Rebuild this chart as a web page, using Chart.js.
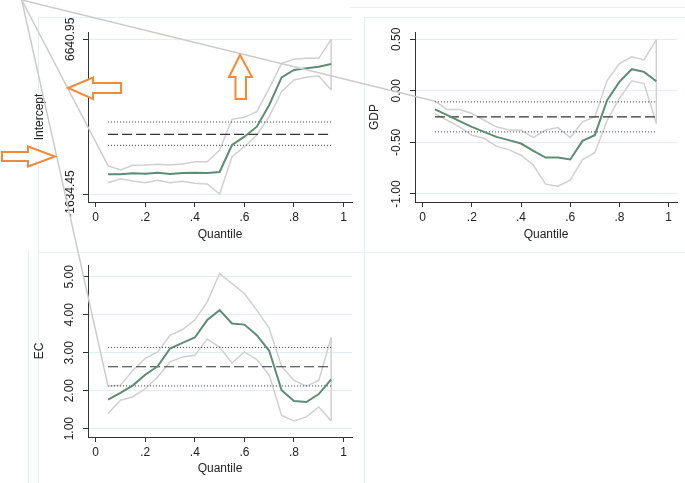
<!DOCTYPE html>
<html><head><meta charset="utf-8">
<script src="https://cdn.jsdelivr.net/npm/chart.js@4.4.1/dist/chart.umd.min.js"></script>
<style>
html,body{margin:0;padding:0;background:#fff;}
#wrap{position:relative;width:685px;height:483px;overflow:hidden;background:#fff;}
canvas{position:absolute;}
</style></head><body>
<div id="wrap">
<canvas id="bg" width="685" height="483" style="left:0;top:0"></canvas>
<canvas id="c1" width="360" height="252" style="left:0;top:0"></canvas>
<canvas id="c2" width="355" height="252" style="left:330px;top:0"></canvas>
<canvas id="c3" width="360" height="231" style="left:0;top:252px"></canvas>
<canvas id="ov" width="685" height="483" style="left:0;top:0"></canvas>
</div>
<script>
// ---------- data ----------
const quantiles = [0.05,0.10,0.15,0.20,0.25,0.30,0.35,0.40,0.45,0.50,0.55,0.60,0.65,0.70,0.75,0.80,0.85,0.90,0.95];
const xTickVals = [0,0.2,0.4,0.6,0.8,1];
const xTickLabels = ['0','.2','.4','.6','.8','1'];

const interceptCoef  = [-582,-582,-529,-547,-493,-564,-511,-493,-511,-457,987,1432,1967,3126,4606,4998,5088,5177,5319];
const interceptUpper = [-119,-351,-101,-83,-47,-83,-30,95,95,719,2359,2467,2770,4018,5355,5569,5622,5622,6640.95];
const interceptLower = [-1028,-814,-939,-1028,-903,-1028,-957,-1064,-1099,-1634.45,362,897,1521,2502,3839,4463,4606,4677,3929];
const interceptOLS = [1557, 969, 2217]; // estimate, lower, upper
const interceptTicks = [-1634.45, 6640.95];
const interceptTickLabels = ['-1634.45','6640.95'];

const gdpCoef  = [-0.18,-0.236,-0.294,-0.349,-0.398,-0.446,-0.478,-0.511,-0.582,-0.647,-0.647,-0.666,-0.485,-0.43,-0.09,0.087,0.21,0.184,0.094];
const gdpUpper = [-0.10,-0.18,-0.18,-0.22,-0.285,-0.349,-0.38,-0.38,-0.453,-0.38,-0.356,-0.453,-0.30,-0.252,0.103,0.265,0.33,0.30,0.498];
const gdpLower = [-0.22,-0.285,-0.349,-0.43,-0.46,-0.537,-0.57,-0.624,-0.72,-0.905,-0.925,-0.866,-0.666,-0.60,-0.285,-0.074,0.097,0.071,-0.317];
const gdpOLS = [-0.252, -0.398, -0.107];
const gdpTicks = [-1, -0.5, 0, 0.5];
const gdpTickLabels = ['-1.00','-0.50','0.00','0.50'];

const ecCoef  = [1.765,1.94,2.14,2.42,2.64,3.11,3.26,3.40,3.86,4.12,3.77,3.74,3.46,3.05,2.01,1.73,1.70,1.91,2.30];
const ecUpper = [2.12,2.14,2.54,2.85,3.02,3.46,3.61,3.86,4.34,5.09,4.82,4.56,4.12,3.64,2.64,2.27,2.12,2.27,3.40];
const ecLower = [1.40,1.75,1.84,2.05,2.36,2.76,2.89,2.93,3.36,3.14,2.73,3.02,2.82,2.41,1.35,1.20,1.31,1.57,1.20];
const ecOLS = [2.63, 2.125, 3.14];
const ecTicks = [1,2,3,4,5];
const ecTickLabels = ['1.00','2.00','3.00','4.00','5.00'];

// ---------- styles ----------
const FONT = '"Liberation Sans", Arial, Helvetica, sans-serif';
const TXT = '#222';
const AXIS = '#333';
const GREEN = '#5e8c76';
const CIGRAY = '#d0d0d0';
const GRID = '#e3eef0';

function pts(ys){ return quantiles.map((q,i)=>({x:q,y:ys[i]})); }
function hline(v){ return [{x:quantiles[0],y:v},{x:quantiles[quantiles.length-1],y:v}]; }

function makePanel(id, o){
  const n = quantiles.length-1;
  const rotLabels = {
    id:'rotLabels'+id,
    afterDraw(chart){
      const ys = chart.scales.y, ctx = chart.ctx;
      ctx.save();
      ctx.font = '12px ' + FONT; ctx.fillStyle = TXT;
      ctx.textAlign = 'center'; ctx.textBaseline = 'middle';
      o.yTicks.forEach((v,i)=>{
        const y = ys.getPixelForValue(v);
        ctx.save(); ctx.translate(o.yLabelX, y); ctx.rotate(-Math.PI/2);
        ctx.fillText(o.yTickLabels[i], 0, 0); ctx.restore();
      });
      ctx.restore();
    }
  };
  const line = (data, color, width, dash, order) => ({
    data, borderColor: color, borderWidth: width, borderDash: dash || [],
    pointRadius: 0, tension: 0, fill: false, order, borderCapStyle:'butt'
  });
  return new Chart(document.getElementById(id), {
    type: 'line',
    data: { datasets: [
      line(pts(o.coef), GREEN, 2, null, 0),
      line(hline(o.ols[0]), AXIS, 1.2, [10,4], 1),
      line(hline(o.ols[1]), AXIS, 1, [1,2], 2),
      line(hline(o.ols[2]), AXIS, 1, [1,2], 2),
      line(pts(o.upper), CIGRAY, 1.5, null, 3),
      line(pts(o.lower), CIGRAY, 1.5, null, 3),
      line([{x:quantiles[n],y:o.lower[n]},{x:quantiles[n],y:o.upper[n]}], CIGRAY, 1.5, null, 3)
    ]},
    options: {
      responsive:false, animation:false, devicePixelRatio:1, events:[],
      layout:{ padding:{ left:0, top:o.padTop, right:o.padRight, bottom:0 } },
      plugins:{ legend:{display:false}, tooltip:{enabled:false} },
      scales:{
        x:{
          type:'linear', position:'bottom', min:-0.031, max:1.034,
          afterBuildTicks(s){ s.ticks = xTickVals.map(v=>({value:v})); },
          afterFit(s){ s.height = o.xHeight; },
          ticks:{ callback:(v)=> xTickLabels[xTickVals.indexOf(v)], font:{family:FONT,size:12}, color:TXT, padding:3, maxRotation:0, minRotation:0, autoSkip:false },
          grid:{ drawOnChartArea:false, drawTicks:true, tickLength:5, tickColor:AXIS, color:AXIS },
          border:{ display:true, color:AXIS, width:1 },
          title:{ display:true, text:'Quantile', font:{family:FONT,size:12}, color:TXT, padding:{top:0,bottom:o.xTitlePad} }
        },
        y:{
          type:'linear', position:'left', min:o.yMin, max:o.yMax,
          afterBuildTicks(s){ s.ticks = o.yTicks.map(v=>({value:v})); },
          afterFit(s){ s.width = o.yWidth; },
          ticks:{ display:false },
          grid:{ color:GRID, lineWidth:1, drawTicks:true, tickLength:5, tickColor:AXIS },
          border:{ display:true, color:AXIS, width:1 },
          title:{ display:true, text:o.title, font:{family:FONT,size:12}, color:TXT, padding:{top:o.yTitlePad,bottom:0} }
        }
      }
    },
    plugins:[rotLabels]
  });
}

const p1 = makePanel('c1', {coef:interceptCoef, upper:interceptUpper, lower:interceptLower, ols:interceptOLS,
  yTicks:interceptTicks, yTickLabels:interceptTickLabels, yMin:-2062, yMax:7031, title:'Intercept',
  padTop:32, padRight:8, xHeight:50, yWidth:88, yLabelX:71, yTitlePad:32.8, xTitlePad:9.8});
const p2 = makePanel('c2', {coef:gdpCoef, upper:gdpUpper, lower:gdpLower, ols:gdpOLS,
  yTicks:gdpTicks, yTickLabels:gdpTickLabels, yMin:-1.078, yMax:0.571, title:'GDP',
  padTop:32, padRight:8, xHeight:50, yWidth:85, yLabelX:66.7, yTitlePad:37.8, xTitlePad:9.8});
const p3 = makePanel('c3', {coef:ecCoef, upper:ecUpper, lower:ecLower, ols:ecOLS,
  yTicks:ecTicks, yTickLabels:ecTickLabels, yMin:0.78, yMax:5.31, title:'EC',
  padTop:13, padRight:8, xHeight:46, yWidth:88, yLabelX:70, yTitlePad:32.8, xTitlePad:7.5});

// ---------- faint graph-region frames (background) ----------
const bg = document.getElementById('bg').getContext('2d');
bg.strokeStyle = '#e6f0f1'; bg.lineWidth = 1;
function seg(c,x1,y1,x2,y2){ c.beginPath(); c.moveTo(x1,y1); c.lineTo(x2,y2); c.stroke(); }
seg(bg, 350, 7.5, 685, 7.5);
seg(bg, 38.5, 17.5, 352, 17.5);
seg(bg, 364.5, 17.5, 685, 17.5);
seg(bg, 38.5, 17.5, 38.5, 483);
seg(bg, 364.5, 17.5, 364.5, 483);
seg(bg, 38.5, 252.5, 685, 252.5);
seg(bg, 28.5, 250, 28.5, 483);

// ---------- overlay annotations ----------
const ov = document.getElementById('ov').getContext('2d');
ov.strokeStyle = '#cccccc'; ov.lineWidth = 1.5;
[[p1,0,0,interceptUpper],[p2,330,0,gdpUpper],[p3,0,252,ecUpper]].forEach(([ch,dx,dy,up])=>{
  const px = ch.scales.x.getPixelForValue(quantiles[0]) + dx;
  const py = ch.scales.y.getPixelForValue(up[0]) + dy;
  seg(ov, 21.7, 0, px, py);
});
function arrow(poly){
  ov.save(); ov.beginPath(); ov.moveTo(poly[0][0],poly[0][1]);
  for(let i=1;i<poly.length;i++) ov.lineTo(poly[i][0],poly[i][1]);
  ov.closePath(); ov.fillStyle='#fff'; ov.fill();
  ov.strokeStyle='#f5893b'; ov.lineWidth=2; ov.lineJoin='miter'; ov.stroke(); ov.restore();
}
arrow([[68,88],[93,77.5],[93,83],[121,83],[121,93],[93,93],[93,99]]);
arrow([[2,152],[28,152],[28,146.5],[55,156.5],[28,166.5],[28,161],[2,161]]);
arrow([[240,55],[252,77],[246,77],[246,99],[235.5,99],[235.5,77],[229,77]]);
</script>
</body></html>
